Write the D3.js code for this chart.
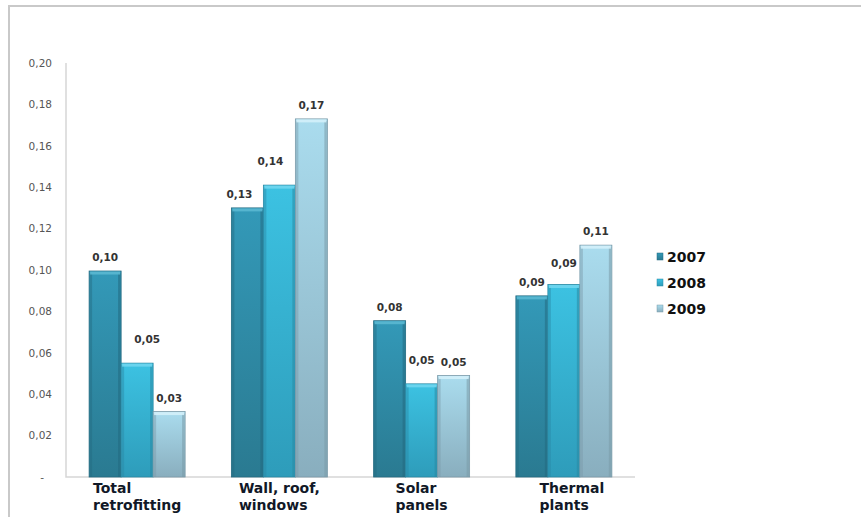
<!DOCTYPE html>
<html><head><meta charset="utf-8">
<script src="https://cdn.jsdelivr.net/npm/d3@7/dist/d3.min.js"></script>
<style>
html,body{margin:0;padding:0;background:#fff;}
svg{display:block;}
</style></head>
<body><svg id="chart" width="861" height="517"></svg>
<script>
const categories = [["Total","retrofitting"],["Wall, roof,","windows"],["Solar","panels"],["Thermal","plants"]];
const seriesNames = ["2007","2008","2009"];
const values2007 = [0.0995, 0.130, 0.0755, 0.0875];
const values2008 = [0.055, 0.141, 0.045, 0.093];
const values2009 = [0.0316, 0.173, 0.049, 0.112];
const labels2007 = ["0,10","0,13","0,08","0,09"];
const labels2008 = ["0,05","0,14","0,05","0,09"];
const labels2009 = ["0,03","0,17","0,05","0,11"];
const yTicks = [0,0.02,0.04,0.06,0.08,0.10,0.12,0.14,0.16,0.18,0.20];
const yTickLabels = ["-","0,02","0,04","0,06","0,08","0,10","0,12","0,14","0,16","0,18","0,20"];

const series = [
  {name: seriesNames[0], values: values2007, labels: labels2007, top:"#3399b8", bot:"#2a7a91", edge:"#236a80", hi:"#5ab8d2"},
  {name: seriesNames[1], values: values2008, labels: labels2008, top:"#3cc2e2", bot:"#2e9cba", edge:"#2a88a3", hi:"#6fd6ef"},
  {name: seriesNames[2], values: values2009, labels: labels2009, top:"#aadcee", bot:"#89aebe", edge:"#7a9aa8", hi:"#d3f0f9"}
];

// manual label nudges (as in the original chart, [series][category] -> [dx, dy])
const labelNudge = {"1-0":[10,-10], "0-1":[-8,0], "1-1":[-9,-10], "1-2":[0,-10], "1-3":[0,-7]};

const svg = d3.select("#chart");
const W = 861, H = 517;
const plot = {left:66, right:635, top:63, bottom:477};

svg.append("path").attr("d", `M9,${H+5} L9,6 L${W+5},6`).attr("fill","none")
  .attr("stroke","#c9c9c9").attr("stroke-width",2);

const defs = svg.append("defs");
series.forEach((s,i)=>{
  const g = defs.append("linearGradient").attr("id","grad"+i).attr("x1",0).attr("y1",0).attr("x2",0).attr("y2",1);
  g.append("stop").attr("offset","0%").attr("stop-color",s.top);
  g.append("stop").attr("offset","100%").attr("stop-color",s.bot);
});
const sh = defs.append("filter").attr("id","shadow").attr("x","-10%").attr("y","-10%").attr("width","130%").attr("height","130%");
sh.append("feDropShadow").attr("dx",1).attr("dy",1).attr("stdDeviation",0.8).attr("flood-color","#000").attr("flood-opacity",0.25);

const y = d3.scaleLinear().domain([0,0.20]).range([plot.bottom, plot.top]);
const x0 = d3.scaleBand().domain(d3.range(categories.length)).range([plot.left, plot.right]).paddingInner(0).paddingOuter(0);
const barW = 32;
const x1 = d3.scaleBand().domain(d3.range(series.length)).range([0, barW*series.length]);
const groupOffset = (x0.bandwidth() - barW*series.length)/2;

const grid = svg.append("g");
grid.selectAll("line").data(yTicks.slice(1)).join("line")
  .attr("x1", plot.left).attr("x2", plot.right)
  .attr("y1", d=>Math.round(y(d))+0.5).attr("y2", d=>Math.round(y(d))+0.5)
  .attr("stroke","#d6d6d6").attr("stroke-width",1.5).attr("filter","url(#shadow)");
svg.append("path").attr("d",`M${plot.left},${plot.top} L${plot.left},${plot.bottom} L${plot.right},${plot.bottom}`)
  .attr("fill","none").attr("stroke","#d6d6d6").attr("stroke-width",1.5);

const yAxis = d3.axisLeft(y).tickValues(yTicks).tickSize(0).tickPadding(0)
  .tickFormat((d,i)=>yTickLabels[i]);
const ya = svg.append("g").attr("transform",`translate(52,0)`).call(yAxis);
ya.select(".domain").remove();
ya.selectAll("text").attr("font-family","DejaVu Sans, Verdana, sans-serif").attr("font-size","10.5px").attr("fill","#555")
  .attr("dy","0.32em");
ya.selectAll(".tick").filter(d=>d===0).select("text").attr("x",-8);

series.forEach((s,si)=>{
  const g = svg.append("g");
  const bars = g.selectAll("g").data(s.values.map((v,ci)=>({v,ci,label:s.labels[ci]}))).join("g")
    .attr("transform", d=>`translate(${x0(d.ci)+groupOffset + x1(si)},0)`);
  bars.append("rect").attr("x",0).attr("width",x1.bandwidth())
    .attr("y", d=>y(d.v)).attr("height", d=>plot.bottom - y(d.v))
    .attr("fill",`url(#grad${si})`).attr("stroke",s.edge).attr("stroke-width",0.8);
  bars.append("rect").attr("x",0.5).attr("width",2.5).attr("y",d=>y(d.v)+2).attr("height",d=>Math.max(0,plot.bottom-y(d.v)-2))
    .attr("fill",s.edge).attr("opacity",0.45);
  bars.append("rect").attr("x",x1.bandwidth()-3).attr("width",2.5).attr("y",d=>y(d.v)+2).attr("height",d=>Math.max(0,plot.bottom-y(d.v)-2))
    .attr("fill",s.edge).attr("opacity",0.55);
  bars.append("rect").attr("x",1).attr("width",x1.bandwidth()-2).attr("y",d=>y(d.v)+0.5).attr("height",3)
    .attr("fill",s.hi).attr("opacity",0.9);
  bars.append("text")
    .attr("x",d=>x1.bandwidth()/2 + (labelNudge[si+"-"+d.ci]||[0,0])[0])
    .attr("y",d=>y(d.v)-10 + (labelNudge[si+"-"+d.ci]||[0,0])[1])
    .attr("text-anchor","middle").attr("font-family","DejaVu Sans, Verdana, sans-serif")
    .attr("font-weight","bold").attr("font-size","10.5px").attr("fill","#333")
    .text(d=>d.label);
});

const catG = svg.append("g");
categories.forEach((lines,ci)=>{
  const cx = x0(ci) + x0.bandwidth()/2;
  const t = catG.append("text").attr("font-family","DejaVu Sans, Verdana, sans-serif")
    .attr("font-weight","bold").attr("font-size","14px").attr("fill","#111827");
  lines.forEach((ln,li)=>{
    t.append("tspan").attr("x",0).attr("y",493 + li*17).text(ln);
  });
  const bb = t.node().getBBox();
  t.attr("transform",`translate(${cx - bb.width/2 + (ci===3?8:0)},0)`);
});

const leg = svg.append("g").attr("transform","translate(657,0)");
series.forEach((s,i)=>{
  const yy = 257 + i*26;
  leg.append("rect").attr("x",0).attr("y",yy-4).attr("width",6).attr("height",7)
    .attr("fill",`url(#grad${i})`).attr("stroke",s.edge).attr("stroke-width",0.5);
  leg.append("text").attr("x",10).attr("y",yy+5).attr("font-family","DejaVu Sans, Verdana, sans-serif")
    .attr("font-weight","bold").attr("font-size","14px").attr("fill","#111").text(s.name);
});
</script></body></html>
